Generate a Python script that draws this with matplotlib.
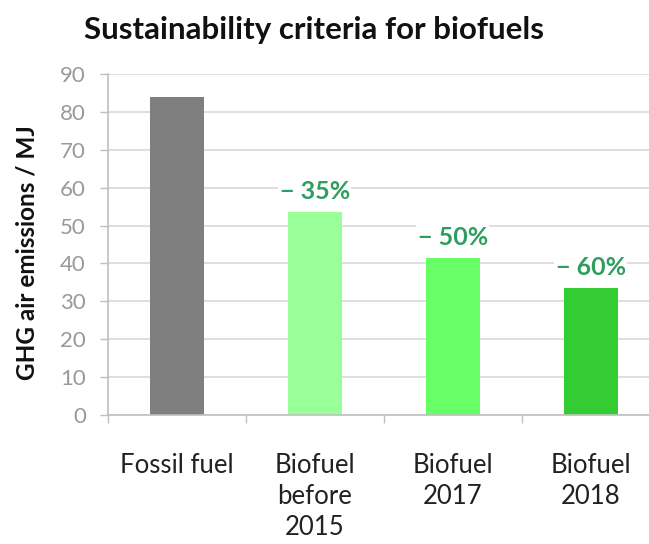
import matplotlib
matplotlib.use("Agg")
import matplotlib.pyplot as plt
from matplotlib.ticker import FixedLocator

plt.rcParams["font.family"] = ["Lato", "DejaVu Sans"]

categories = ["Fossil fuel", "Biofuel\nbefore\n2015", "Biofuel\n2017", "Biofuel\n2018"]
emissions = [83.8, 53.5, 41.5, 33.5]
reductions = [None, "\u2212 35%", "\u2212 50%", "\u2212 60%"]
colors = ["#7f7f7f", "#99ff99", "#66ff66", "#33cc33"]

fig = plt.figure(figsize=(6.49, 5.44), dpi=100)
ax = fig.add_axes([0.1664, 0.2371, 0.850, 0.627])

x = range(len(categories))
bars = ax.bar(x, emissions, width=0.39, color=colors, zorder=2)

# reduction labels sit on a white box so the gridline is cut behind them
for b, lab in zip(bars, reductions):
    if lab:
        ax.text(b.get_x() + b.get_width() / 2, b.get_height() + 2.4, lab,
                ha="center", va="bottom", fontsize=18, fontweight="bold",
                color="#2e9e5e", zorder=3,
                bbox=dict(facecolor="white", edgecolor="none", pad=1))

ax.set_ylim(0, 90)
ax.set_xlim(-0.5, len(categories) - 0.5)
ax.set_yticks(range(0, 91, 10))
ax.yaxis.grid(True, color="#d9d9d9", lw=1.2, zorder=0)
ax.set_axisbelow(True)

ax.set_xticks(list(x))
ax.set_xticklabels(categories, fontsize=18.5, color="#222222", linespacing=1.3)
ax.xaxis.set_minor_locator(FixedLocator([i - 0.5 for i in range(len(categories) + 1)]))
ax.tick_params(axis="x", which="major", length=0, pad=27)
ax.tick_params(axis="x", which="minor", length=6, color="#bfbfbf", width=1)
ax.tick_params(axis="y", labelsize=16, labelcolor="#999999", color="#bfbfbf",
               length=6, width=1, pad=10)

for s in ["top", "right"]:
    ax.spines[s].set_visible(False)
for s in ["left", "bottom"]:
    ax.spines[s].set_color("#bfbfbf")
    ax.spines[s].set_linewidth(1.2)

fig.text(0.0416, 0.535, "GHG air emissions / MJ", rotation=90, ha="center",
         va="center", fontsize=17.5, fontweight="bold", color="#111111")
fig.text(0.484, 0.945, "Sustainability criteria for biofuels", ha="center",
         va="center", fontsize=22.5, fontweight="bold", color="#111111")

fig.savefig("out.png", dpi=100)
